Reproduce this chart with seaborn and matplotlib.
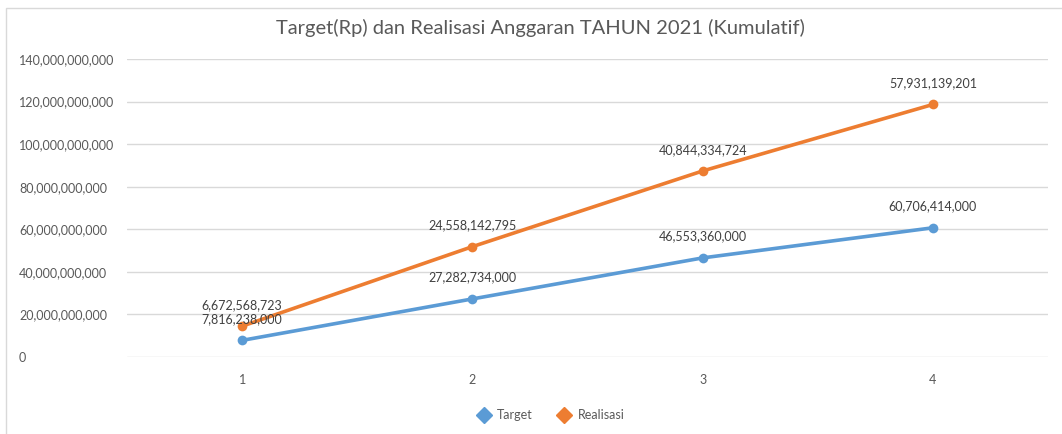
import numpy as np
import pandas as pd
import matplotlib
matplotlib.use("Agg")
import matplotlib.pyplot as plt
import seaborn as sns
from matplotlib.patches import Rectangle
from matplotlib.lines import Line2D
from matplotlib.ticker import FuncFormatter, MultipleLocator

# Data
periods = [1, 2, 3, 4]
target = [7816238000, 27282734000, 46553360000, 60706414000]
realisasi = [6672568723, 24558142795, 40844334724, 57931139201]
series_names = ["Target", "Realisasi"]
title = "Target(Rp) dan Realisasi Anggaran TAHUN 2021 (Kumulatif)"

# Excel "stacked line": second series is drawn on top of the first
stack_target = np.array(target, dtype=float)
stack_real = stack_target + np.array(realisasi, dtype=float)

df = pd.DataFrame({
    "periode": periods * 2,
    "nilai": list(stack_target) + list(stack_real),
    "label": target + realisasi,
    "seri": [series_names[0]] * 4 + [series_names[1]] * 4,
})

sns.set_theme(style="white")
plt.rcParams["font.family"] = ["Lato", "DejaVu Sans"]

colors = {"Target": "#5B9BD5", "Realisasi": "#ED7D31"}
fig = plt.figure(figsize=(10.62, 4.34), dpi=100)
ax = fig.add_axes([127 / 1062, 77 / 434, 921 / 1062, 298 / 434])

sns.lineplot(data=df, x="periode", y="nilai", hue="seri", palette=colors,
             marker="o", markersize=7, markeredgewidth=0, linewidth=2.6,
             ax=ax, legend=False, sort=False)

for _, r in df.iterrows():
    ax.annotate(f"{int(r['label']):,}", (r["periode"], r["nilai"]),
                xytext=(0, 11), textcoords="offset points",
                ha="center", va="bottom", fontsize=9, color="#404040")

ax.set_xlim(0.5, 4.5)
ax.set_ylim(0, 140e9)
ax.yaxis.set_major_locator(MultipleLocator(20e9))
ax.yaxis.set_major_formatter(FuncFormatter(lambda v, p: f"{int(v):,}"))
ax.set_xticks(periods)
ax.set_xticklabels([str(p) for p in periods])
ax.grid(axis="y", color="#D9D9D9", linewidth=1)
ax.set_axisbelow(True)
for s in ax.spines.values():
    s.set_visible(False)
ax.tick_params(axis="both", length=0, labelsize=9, colors="#595959")
for lbl in ax.get_yticklabels():
    lbl.set_horizontalalignment("left")
ax.tick_params(axis="y", pad=(127 - 19) * 0.72)
ax.tick_params(axis="x", pad=12)
ax.set_xlabel("")
ax.set_ylabel("")

fig.text(540 / 1062, 1 - 28 / 434, title, ha="center", va="center",
         fontsize=14.5, color="#595959")

# legend
handles = [Line2D([0], [0], color=colors[n], marker="D", markersize=8,
                  linestyle="none") for n in series_names]
fig.legend(handles, series_names, loc="center", bbox_to_anchor=(548 / 1062, 1 - 415 / 434),
           ncol=2, frameon=False, fontsize=9, handletextpad=0.1,
           columnspacing=1.5, labelcolor="#595959")

# outer chart frame
fig.patches.append(Rectangle((6 / 1062, -0.01), 1.1, 1 - 8 / 434 + 0.01,
                             transform=fig.transFigure, fill=False,
                             edgecolor="#D9D9D9", linewidth=1))

fig.savefig("out.png", dpi=100)
